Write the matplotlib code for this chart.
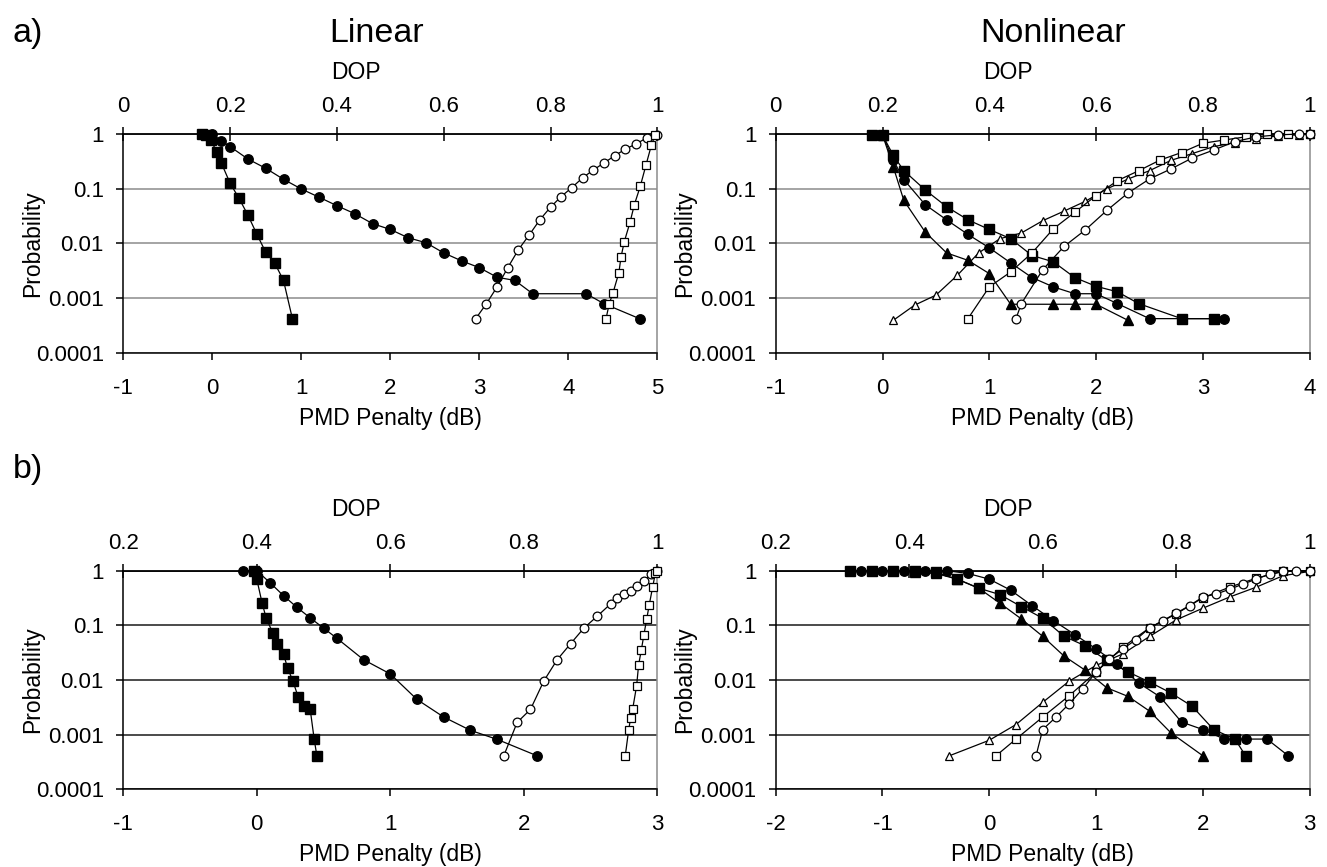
import matplotlib
matplotlib.use('Agg')
import matplotlib.pyplot as plt
from matplotlib.ticker import FixedLocator, FixedFormatter, NullLocator

plt.rcParams['font.family'] = ['Liberation Sans', 'DejaVu Sans']
plt.rcParams['axes.unicode_minus'] = False

# ---------------- data ----------------
Y_TICKS = [0.0001, 0.001, 0.01, 0.1, 1]
Y_LABELS = ['0.0001', '0.001', '0.01', '0.1', '1']

# a) Linear
AL_sq_pmd = [-0.12, -0.07, -0.02, 0.05, 0.1, 0.2, 0.3, 0.4, 0.5, 0.6, 0.7, 0.8, 0.9]
AL_sq_p = [1.0, 0.97, 0.78, 0.48, 0.30, 0.126, 0.067, 0.033, 0.0148, 0.0069, 0.0044, 0.0021, 0.00042]
AL_ci_pmd = [0.0, 0.1, 0.2, 0.4, 0.6, 0.8, 1.0, 1.2, 1.4, 1.6, 1.8, 2.0, 2.2, 2.4, 2.6, 2.8, 3.0,
             3.2, 3.4, 3.6, 4.2, 4.4, 4.8]
AL_ci_p = [1.0, 0.76, 0.59, 0.35, 0.237, 0.149, 0.099, 0.070, 0.049, 0.035, 0.023, 0.018, 0.0127,
           0.0103, 0.0067, 0.0048, 0.0036, 0.0024, 0.0021, 0.0012, 0.0012, 0.00079, 0.00042]
AL_oc_dop = [0.66, 0.68, 0.70, 0.72, 0.74, 0.76, 0.78, 0.80, 0.82, 0.84, 0.86, 0.88, 0.90, 0.92,
             0.94, 0.96, 0.98, 1.0]
AL_oc_p = [0.00042, 0.00079, 0.0016, 0.0036, 0.0077, 0.0142, 0.027, 0.046, 0.072, 0.105, 0.158,
           0.22, 0.296, 0.40, 0.53, 0.66, 0.85, 0.97]
AL_os_dop = [0.904, 0.910, 0.917, 0.928, 0.932, 0.938, 0.949, 0.957, 0.968, 0.979, 0.989, 0.996]
AL_os_p = [0.00042, 0.00079, 0.00124, 0.0029, 0.0056, 0.0106, 0.0245, 0.051, 0.11, 0.276, 0.63, 0.97]

# a) Nonlinear
AR_sq_pmd = [-0.1, 0.0, 0.1, 0.2, 0.4, 0.6, 0.8, 1.0, 1.2, 1.4, 1.6, 1.8, 2.0, 2.2, 2.4, 2.8, 3.1]
AR_sq_p = [0.97, 0.97, 0.41, 0.214, 0.095, 0.047, 0.027, 0.018, 0.0122, 0.0060, 0.0046, 0.00237,
           0.00164, 0.0013, 0.00079, 0.00042, 0.00042]
AR_ci_pmd = [0.0, 0.1, 0.2, 0.4, 0.6, 0.8, 1.0, 1.2, 1.4, 1.6, 1.8, 2.0, 2.2, 2.5, 3.2]
AR_ci_p = [0.97, 0.336, 0.147, 0.051, 0.027, 0.0146, 0.0083, 0.0044, 0.00237, 0.0016, 0.0012,
           0.0012, 0.00079, 0.00042, 0.00042]
AR_tr_pmd = [0.0, 0.1, 0.2, 0.4, 0.6, 0.8, 1.0, 1.2, 1.6, 1.8, 2.0, 2.3]
AR_tr_p = [0.97, 0.254, 0.061, 0.0161, 0.0067, 0.0049, 0.0028, 0.00077, 0.00077, 0.00077,
           0.00077, 0.00039]
AR_ot_dop = [0.22, 0.26, 0.30, 0.34, 0.38, 0.42, 0.46, 0.50, 0.54, 0.58, 0.62, 0.66, 0.70, 0.74,
             0.78, 0.82, 0.86, 0.90, 0.94, 0.98, 1.0]
AR_ot_p = [0.00039, 0.00074, 0.00113, 0.0026, 0.0067, 0.0122, 0.0155, 0.026, 0.039, 0.059, 0.099,
           0.151, 0.214, 0.33, 0.44, 0.59, 0.70, 0.81, 0.93, 0.97, 1.0]
AR_os_dop = [0.36, 0.40, 0.44, 0.48, 0.52, 0.56, 0.60, 0.64, 0.68, 0.72, 0.76, 0.80, 0.84, 0.88,
             0.92, 0.96, 1.0]
AR_os_p = [0.00042, 0.0016, 0.0030, 0.0067, 0.0185, 0.037, 0.075, 0.141, 0.214, 0.336, 0.46, 0.68,
           0.78, 0.89, 1.0, 1.0, 1.0]
AR_oc_dop = [0.45, 0.46, 0.50, 0.54, 0.58, 0.62, 0.66, 0.70, 0.74, 0.78, 0.82, 0.86, 0.90, 0.94,
             0.98, 1.0]
AR_oc_p = [0.00042, 0.00079, 0.0033, 0.0088, 0.0177, 0.040, 0.084, 0.151, 0.23, 0.365, 0.51, 0.73,
           0.89, 0.97, 1.0, 1.0]

# b) Linear
BL_sq_pmd = [-0.02, 0.0, 0.04, 0.07, 0.12, 0.15, 0.20, 0.23, 0.27, 0.31, 0.35, 0.40, 0.43, 0.45]
BL_sq_p = [1.0, 0.70, 0.254, 0.137, 0.072, 0.046, 0.030, 0.0168, 0.0096, 0.0049, 0.0034, 0.0029,
           0.00082, 0.00041]
BL_ci_pmd = [-0.1, 0.0, 0.1, 0.2, 0.3, 0.4, 0.5, 0.6, 0.8, 1.0, 1.2, 1.4, 1.6, 1.8, 2.1]
BL_ci_p = [1.0, 1.0, 0.60, 0.35, 0.214, 0.137, 0.089, 0.058, 0.0235, 0.0129, 0.0044, 0.0021,
           0.0012, 0.00082, 0.00041]
BL_oc_dop = [0.77, 0.79, 0.81, 0.83, 0.85, 0.87, 0.89, 0.91, 0.93, 0.94, 0.95, 0.96, 0.97, 0.98,
             0.99, 1.0]
BL_oc_p = [0.00041, 0.00167, 0.0029, 0.0096, 0.0235, 0.046, 0.089, 0.147, 0.247, 0.32, 0.375,
           0.43, 0.52, 0.64, 0.87, 1.0]
BL_os_dop = [0.952, 0.957, 0.960, 0.963, 0.969, 0.972, 0.976, 0.980, 0.984, 0.988, 0.993, 0.997,
             0.999]
BL_os_p = [0.00041, 0.0012, 0.0020, 0.0029, 0.0078, 0.019, 0.035, 0.068, 0.128, 0.24, 0.50, 0.89,
           1.0]

# b) Nonlinear
BR_sq_pmd = [-1.3, -1.1, -0.9, -0.7, -0.5, -0.3, -0.1, 0.1, 0.3, 0.5, 0.7, 0.9, 1.1, 1.3, 1.5,
             1.7, 1.9, 2.1, 2.3, 2.4]
BR_sq_p = [1.0, 1.0, 1.0, 1.0, 0.93, 0.70, 0.48, 0.365, 0.22, 0.135, 0.063, 0.042, 0.0228, 0.014,
           0.0092, 0.0058, 0.0033, 0.00124, 0.00083, 0.00041]
BR_ci_pmd = [-1.2, -1.0, -0.8, -0.6, -0.4, -0.2, 0.0, 0.2, 0.4, 0.6, 0.8, 1.0, 1.2, 1.4, 1.6, 1.8,
             2.0, 2.2, 2.4, 2.6, 2.8]
BR_ci_p = [1.0, 1.0, 1.0, 1.0, 1.0, 0.89, 0.70, 0.44, 0.23, 0.122, 0.068, 0.037, 0.0193, 0.0088,
           0.0049, 0.0017, 0.00124, 0.00083, 0.00083, 0.00083, 0.00041]
BR_tr_pmd = [-0.7, -0.5, -0.3, -0.1, 0.1, 0.3, 0.5, 0.7, 0.9, 1.1, 1.3, 1.5, 1.7, 2.0]
BR_tr_p = [0.93, 0.89, 0.70, 0.48, 0.254, 0.131, 0.063, 0.0274, 0.015, 0.0072, 0.0050, 0.0027,
           0.00108, 0.00041]
BR_ot_dop = [0.46, 0.52, 0.56, 0.60, 0.64, 0.68, 0.72, 0.76, 0.80, 0.84, 0.88, 0.92, 0.96, 1.0]
BR_ot_p = [0.00041, 0.00079, 0.00153, 0.0039, 0.0096, 0.0185, 0.030, 0.0626, 0.126, 0.206, 0.33,
           0.50, 0.81, 0.97]
BR_os_dop = [0.53, 0.56, 0.60, 0.64, 0.68, 0.72, 0.76, 0.80, 0.84, 0.88, 0.92, 0.96, 1.0]
BR_os_p = [0.00041, 0.00083, 0.0021, 0.0052, 0.014, 0.040, 0.090, 0.162, 0.32, 0.50, 0.73, 0.97,
           1.0]
BR_oc_dop = [0.59, 0.60, 0.62, 0.64, 0.66, 0.68, 0.70, 0.72, 0.74, 0.76, 0.78, 0.80, 0.82, 0.84,
             0.86, 0.88, 0.90, 0.92, 0.94, 0.96, 0.98, 1.0]
BR_oc_p = [0.00041, 0.00124, 0.0021, 0.0037, 0.0069, 0.014, 0.0245, 0.037, 0.055, 0.090, 0.122,
           0.167, 0.23, 0.33, 0.375, 0.457, 0.57, 0.70, 0.87, 0.97, 1.0, 1.0]

# ---------------- figure ----------------
FW, FH = 1327, 867
fig = plt.figure(figsize=(FW / 100, FH / 100), dpi=100)

AX_W = 534 / FW
AX_H = 218.6 / FH
LEFT_X = [123.3 / FW, 775.7 / FW]
BOTTOM_Y = [1 - 352.7 / FH, 1 - 789.3 / FH]

TICK_FS = 16
LABEL_FS = 16.5


def fmt(v):
    s = ('%g' % v)
    return s


def panel(pos, pmd_lim, pmd_ticks, dop_lim, dop_ticks, filled, opened, gridcolor):
    ax = fig.add_axes(pos)
    ax.set_yscale('log')
    ax.set_ylim(1e-4, 1)
    ax.set_xlim(*pmd_lim)
    ax.yaxis.set_major_locator(FixedLocator(Y_TICKS))
    ax.yaxis.set_major_formatter(FixedFormatter(Y_LABELS))
    ax.yaxis.set_minor_locator(NullLocator())
    ax.xaxis.set_major_locator(FixedLocator(pmd_ticks))
    ax.xaxis.set_major_formatter(FixedFormatter([fmt(t) for t in pmd_ticks]))
    ax.yaxis.grid(True, color=gridcolor, lw=1.1)
    ax.set_axisbelow(True)
    for s in ['left', 'bottom']:
        ax.spines[s].set_color('black')
        ax.spines[s].set_linewidth(1.1)
    ax.spines['right'].set_color('#8c8c8c')
    ax.spines['right'].set_linewidth(1.1)
    ax.spines['top'].set_visible(False)
    ax.tick_params(axis='x', direction='out', length=5, width=1.1, labelsize=TICK_FS, pad=13,
                   top=False)
    ax.tick_params(axis='y', direction='out', length=5, width=1.1, labelsize=TICK_FS, pad=9,
                   right=False)
    ax.set_xlabel('PMD Penalty (dB)', fontsize=LABEL_FS)
    ax.xaxis.set_label_coords(0.5, -0.30)
    ax.xaxis.label.set_va('center')
    ax.set_ylabel('Probability', fontsize=LABEL_FS)
    ax.yaxis.set_label_coords(-0.17, 0.5)
    ax.yaxis.label.set_va('center')

    for x, y, m in filled:
        ax.plot(x, y, color='black', lw=0.9, marker=m, ms=6.8, mfc='black', mec='black',
                clip_on=False, zorder=3)

    ax2 = ax.twiny()
    ax2.set_xlim(*dop_lim)
    ax2.set_ylim(1e-4, 1)
    ax2.xaxis.set_major_locator(FixedLocator(dop_ticks))
    ax2.xaxis.set_major_formatter(FixedFormatter([fmt(t) for t in dop_ticks]))
    ax2.xaxis.set_minor_locator(NullLocator())
    for s in ['left', 'bottom', 'right']:
        ax2.spines[s].set_visible(False)
    ax2.spines['top'].set_color('black')
    ax2.spines['top'].set_linewidth(1.3)
    ax2.tick_params(axis='x', direction='inout', length=10, width=1.1, labelsize=TICK_FS, pad=7)
    ax2.set_xlabel('DOP', fontsize=LABEL_FS)
    ax2.xaxis.set_label_coords(0.435, 1.28)
    ax2.xaxis.label.set_va('center')

    for x, y, m in opened:
        ax2.plot(x, y, color='black', lw=0.9, marker=m, ms=6.3, mfc='white', mec='black',
                 mew=0.9, clip_on=False, zorder=3)
    return ax, ax2


# a) Linear
panel([LEFT_X[0], BOTTOM_Y[0], AX_W, AX_H], (-1, 5), [-1, 0, 1, 2, 3, 4, 5],
      (0, 1), [0, 0.2, 0.4, 0.6, 0.8, 1],
      [(AL_sq_pmd, AL_sq_p, 's'), (AL_ci_pmd, AL_ci_p, 'o')],
      [(AL_oc_dop, AL_oc_p, 'o'), (AL_os_dop, AL_os_p, 's')],
      '#8c8c8c')

# a) Nonlinear
panel([LEFT_X[1], BOTTOM_Y[0], AX_W, AX_H], (-1, 4), [-1, 0, 1, 2, 3, 4],
      (0, 1), [0, 0.2, 0.4, 0.6, 0.8, 1],
      [(AR_sq_pmd, AR_sq_p, 's'), (AR_ci_pmd, AR_ci_p, 'o'), (AR_tr_pmd, AR_tr_p, '^')],
      [(AR_ot_dop, AR_ot_p, '^'), (AR_os_dop, AR_os_p, 's'), (AR_oc_dop, AR_oc_p, 'o')],
      '#8c8c8c')

# b) Linear
panel([LEFT_X[0], BOTTOM_Y[1], AX_W, AX_H], (-1, 3), [-1, 0, 1, 2, 3],
      (0.2, 1), [0.2, 0.4, 0.6, 0.8, 1],
      [(BL_sq_pmd, BL_sq_p, 's'), (BL_ci_pmd, BL_ci_p, 'o')],
      [(BL_oc_dop, BL_oc_p, 'o'), (BL_os_dop, BL_os_p, 's')],
      '#1a1a1a')

# b) Nonlinear
panel([LEFT_X[1], BOTTOM_Y[1], AX_W, AX_H], (-2, 3), [-2, -1, 0, 1, 2, 3],
      (0.2, 1), [0.2, 0.4, 0.6, 0.8, 1],
      [(BR_sq_pmd, BR_sq_p, 's'), (BR_ci_pmd, BR_ci_p, 'o'), (BR_tr_pmd, BR_tr_p, '^')],
      [(BR_ot_dop, BR_ot_p, '^'), (BR_os_dop, BR_os_p, 's'), (BR_oc_dop, BR_oc_p, 'o')],
      '#1a1a1a')

TITLE_FS = 24.5
fig.text(13 / FW, 1 - 42 / FH, 'a)', fontsize=TITLE_FS, ha='left', va='baseline')
fig.text(13 / FW, 1 - 478 / FH, 'b)', fontsize=TITLE_FS, ha='left', va='baseline')
fig.text(377 / FW, 1 - 42 / FH, 'Linear', fontsize=TITLE_FS, ha='center', va='baseline')
fig.text(1053 / FW, 1 - 42 / FH, 'Nonlinear', fontsize=TITLE_FS, ha='center', va='baseline')

fig.savefig('out.png', dpi=100)
